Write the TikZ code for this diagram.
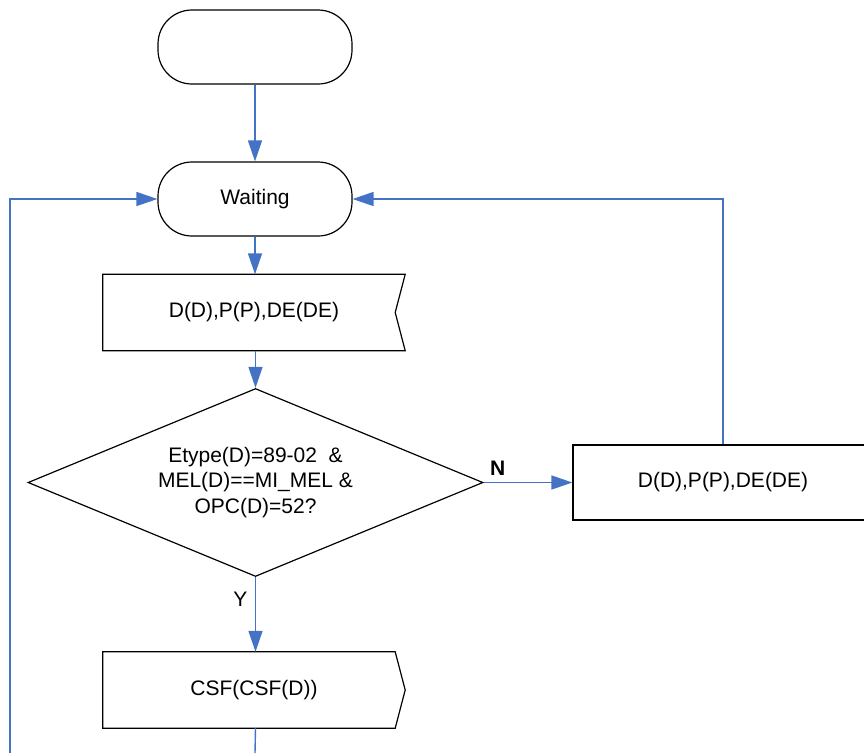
\documentclass[tikz,border=0pt]{standalone}
\usepackage{fontspec}
\setmainfont{Liberation Sans}
\usetikzlibrary{shapes.geometric,arrows.meta}
\definecolor{lineblue}{HTML}{4472C4}
\begin{document}
\begin{tikzpicture}[x=1pt,y=-1pt,
  shapeline/.style={draw=black,line width=1.2pt},
  conn/.style={draw=lineblue,line width=1.4pt,-{Triangle[length=21pt,width=14pt]}},
  plainconn/.style={draw=lineblue,line width=1.4pt},
  txt/.style={font=\fontsize{21}{25.5}\selectfont,align=center,text=black},
  term/.style={shapeline,txt,rectangle,rounded corners=34pt,minimum width=194pt,minimum height=74pt,inner sep=0pt},
  boxnode/.style={txt,rectangle,minimum width=302pt,minimum height=76pt,inner sep=0pt},
  lbl/.style={font=\fontsize{21}{24}\selectfont,text=black},
]
\useasboundingbox (0,0) rectangle (864,753);

% nodes
\node[term] (start) at (255,47) {};
\node[term] (wait) at (255,199) {Waiting};
\node[boxnode] (recv) at (254,312.5) {D(D),P(P),DE(DE)};
\draw[shapeline] (recv.north west) -- (recv.north east) -- ([xshift=-10pt]recv.east) -- (recv.south east) -- (recv.south west) -- cycle;
\node[diamond,shapeline,txt,aspect=2.42,minimum width=455pt,minimum height=188pt,inner sep=0pt] (dec) at (255.5,482.5)
  {Etype(D)=89-02 \ \&\\MEL(D)==MI\_MEL \&\\OPC(D)=52?};
\node[txt,rectangle,shapeline,minimum width=300pt,minimum height=75pt,inner sep=0pt] (rbox) at (723,482.5) {D(D),P(P),DE(DE)};
\node[boxnode,minimum height=76pt] (send) at (254,690) {CSF(CSF(D))};
\draw[shapeline] (send.north west) -- ([xshift=-10pt]send.north east) -- (send.east) -- ([xshift=-10pt]send.south east) -- (send.south west) -- cycle;

\coordinate (bottomend) at (255,753);
\coordinate (leftend) at (10,753);

% connectors
\draw[conn] (start.south) -- (wait.north);
\draw[conn] (wait.south) -- (recv.north -| wait.south);
\draw[conn] (recv.south -| dec.north) -- (dec.north);
\draw[conn] (dec.east) -- (rbox.west) node[lbl,pos=0.16,above=3pt] {\textbf{N}};
\draw[conn] (rbox.north) |- (wait.east);
\draw[conn] (dec.south) -- (send.north -| dec.south) node[lbl,pos=0.3,left=4pt] {Y};
\draw[plainconn] (send.south -| dec.south) -- (bottomend);
\draw[conn] (leftend) |- (wait.west);
\end{tikzpicture}
\end{document}
